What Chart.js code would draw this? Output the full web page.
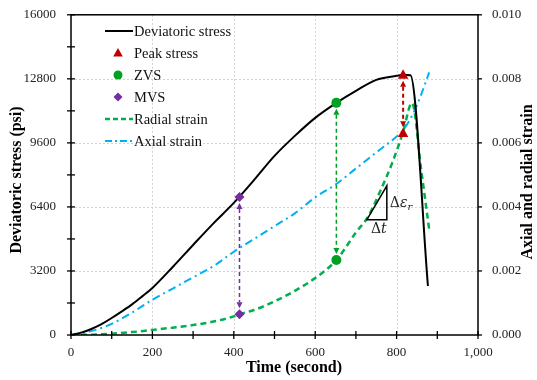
<!DOCTYPE html>
<html>
<head>
<meta charset="utf-8">
<script src="https://cdn.jsdelivr.net/npm/chart.js@4/dist/chart.umd.min.js"></script>
<style>
html,body{margin:0;padding:0;background:#fff}
#wrap{width:537px;height:380px}
</style>
</head>
<body>
<div id="wrap"><canvas id="graficoEnsayo"></canvas></div>
<script>
// deviatoric stress (psi) vs time (s)
const stressTime = [0,25,50,75,100,125,150,175,200,250,300,350,400,450,500,550,600,652,700,750,800,816,834,877];
const stressVal  = [0,120,300,540,850,1180,1530,1930,2350,3400,4500,5580,6600,7750,8950,9950,10850,11600,12200,12750,12950,13000,12980,2450];

// radial strain
const radialTime = [0,50,100,150,200,250,300,350,400,414,450,500,550,600,652,700,730,760,790,815,838,860,880];
const radialVal  = [0,0.00001,0.00004,0.00009,0.00016,0.00023,0.00031,0.00042,0.00058,0.00065,0.00078,0.00105,0.00138,0.00178,0.00234,0.0032,0.0037,0.0045,0.0054,0.0063,0.00725,0.0052,0.0033];

// axial strain
const axialTime = [0,50,100,150,200,250,300,350,400,450,500,550,600,650,700,750,800,816,840,860,880];
const axialVal  = [0,0.00012,0.00035,0.0007,0.0011,0.00145,0.0018,0.00215,0.0026,0.003,0.0034,0.0038,0.0043,0.0047,0.0052,0.0057,0.0062,0.0064,0.0069,0.0075,0.0082];

// Peak stress, ZVS, MVS
const markerNames  = ["Peak stress","ZVS","MVS"];
const markerTime   = [816,652,414];
const markerStress = [13000,11600,6900];
const markerStrain = [0.0063,0.00234,0.00065];

const timeTicks   = [0,200,400,600,800,1000];
const stressTicks = [0,3200,6400,9600,12800,16000];
const strainTicks = [0,0.002,0.004,0.006,0.008,0.010];

// slope triangle (time, radial strain)
const slopeTime   = [727,776];
const slopeStrain = [0.0036,0.00466];

const fuente = "'Liberation Serif','Times New Roman',serif";
const colores = {
  stress: "#000000",
  peak: "#c00000",
  zvs: "#00a020",
  mvs: "#7030a0",
  radial: "#00b050",
  axial: "#00b0f0"
};

function puntos(xs, ys) {
  return xs.map((t, i) => ({x: t, y: ys[i]}));
}

function linea(ctx, x1, y1, x2, y2) {
  ctx.beginPath();
  ctx.moveTo(x1, y1);
  ctx.lineTo(x2, y2);
  ctx.stroke();
}

function marca(ctx, tipo, x, y, r, color) {
  ctx.save();
  ctx.fillStyle = color;
  ctx.beginPath();
  if (tipo === "triangle") {
    ctx.moveTo(x, y - r);
    ctx.lineTo(x + r * 0.95, y + r * 0.7);
    ctx.lineTo(x - r * 0.95, y + r * 0.7);
  } else if (tipo === "circle") {
    ctx.arc(x, y, r, 0, Math.PI * 2);
  } else {
    ctx.moveTo(x, y - r);
    ctx.lineTo(x + r, y);
    ctx.lineTo(x, y + r);
    ctx.lineTo(x - r, y);
  }
  ctx.closePath();
  ctx.fill();
  ctx.restore();
}

function flecha(ctx, x, yTop, yBot, color, ancho) {
  const gap = 6, cabeza = 6, mitad = 3;
  ctx.save();
  ctx.strokeStyle = color;
  ctx.fillStyle = color;
  ctx.lineWidth = ancho;
  ctx.setLineDash([4, 3]);
  linea(ctx, x, yTop + gap + cabeza, x, yBot - gap - cabeza);
  ctx.setLineDash([]);
  ctx.beginPath();
  ctx.moveTo(x, yTop + gap);
  ctx.lineTo(x - mitad, yTop + gap + cabeza);
  ctx.lineTo(x + mitad, yTop + gap + cabeza);
  ctx.closePath();
  ctx.fill();
  ctx.beginPath();
  ctx.moveTo(x, yBot - gap);
  ctx.lineTo(x - mitad, yBot - gap - cabeza);
  ctx.lineTo(x + mitad, yBot - gap - cabeza);
  ctx.closePath();
  ctx.fill();
  ctx.restore();
}

const dibujos = {
  id: "dibujos",
  beforeDatasetsDraw(chart) {
    const {ctx, chartArea: a, scales: {x, y}} = chart;
    ctx.save();
    ctx.strokeStyle = "#d2d2d2";
    ctx.lineWidth = 1;
    ctx.setLineDash([2, 2]);
    timeTicks.slice(1, -1).forEach(v => {
      const px = Math.round(x.getPixelForValue(v)) + 0.5;
      linea(ctx, px, a.top, px, a.bottom);
    });
    stressTicks.slice(1, -1).forEach(v => {
      const py = Math.round(y.getPixelForValue(v)) + 0.5;
      linea(ctx, a.left, py, a.right, py);
    });
    ctx.restore();
  },
  afterDatasetsDraw(chart) {
    const {ctx, scales: {x, y, y1}} = chart;
    const tonos = [colores.peak, colores.zvs, colores.mvs];
    const anchos = [2, 1.5, 1.5];
    markerTime.forEach((t, i) => {
      const px = x.getPixelForValue(t);
      flecha(ctx, px, y.getPixelForValue(markerStress[i]), y1.getPixelForValue(markerStrain[i]), tonos[i], anchos[i]);
    });
    const formas = ["triangle", "circle", "diamond"];
    const radios = [5.5, 5, 5];
    markerTime.forEach((t, i) => {
      const px = x.getPixelForValue(t);
      marca(ctx, formas[i], px, y.getPixelForValue(markerStress[i]), radios[i], tonos[i]);
      marca(ctx, formas[i], px, y1.getPixelForValue(markerStrain[i]), radios[i], tonos[i]);
    });

    // slope triangle
    const x0 = x.getPixelForValue(slopeTime[0]);
    const x1 = x.getPixelForValue(slopeTime[1]);
    const yb = y1.getPixelForValue(slopeStrain[0]);
    const yt = y1.getPixelForValue(slopeStrain[1]);
    ctx.save();
    ctx.strokeStyle = "#000";
    ctx.lineWidth = 1.5;
    ctx.beginPath();
    ctx.moveTo(x0, yb);
    ctx.lineTo(x1, yb);
    ctx.lineTo(x1, yt);
    ctx.closePath();
    ctx.stroke();
    ctx.fillStyle = "#222";
    ctx.textBaseline = "middle";
    ctx.font = "14px 'DejaVu Serif', serif";
    ctx.textAlign = "left";
    let tx = x1 + 3, ty = (yb + yt) / 2 + 1;
    ctx.fillText("Δ", tx, ty);
    tx += ctx.measureText("Δ").width;
    ctx.font = "italic 14px 'DejaVu Serif', serif";
    ctx.fillText("ε", tx, ty);
    tx += ctx.measureText("ε").width;
    ctx.font = "italic 10px 'DejaVu Serif', serif";
    ctx.fillText("r", tx, ty + 4);
    ctx.font = "14px 'DejaVu Serif', serif";
    const w1 = ctx.measureText("Δ").width;
    ctx.font = "italic 14px 'DejaVu Serif', serif";
    const w2 = ctx.measureText("t").width;
    let bx = (x0 + x1) / 2 + 2 - (w1 + w2) / 2;
    ctx.font = "14px 'DejaVu Serif', serif";
    ctx.fillText("Δ", bx, yb + 10);
    ctx.font = "italic 14px 'DejaVu Serif', serif";
    ctx.fillText("t", bx + w1, yb + 10);
    ctx.restore();
  },
  afterDraw(chart) {
    const {ctx, chartArea: a, scales: {x, y, y1}} = chart;
    ctx.save();
    // frame
    ctx.strokeStyle = "#000";
    ctx.lineWidth = 1.5;
    ctx.strokeRect(a.left, a.top, a.right - a.left, a.bottom - a.top);
    // tick marks
    ctx.lineWidth = 1.3;
    for (let v = 0; v <= 1000; v += 100) {
      const px = x.getPixelForValue(v);
      linea(ctx, px, a.bottom - 4, px, a.bottom + 4);
    }
    for (let v = 0; v <= 16000; v += 1600) {
      const py = y.getPixelForValue(v);
      linea(ctx, a.left - 4, py, a.left + 4, py);
    }
    strainTicks.forEach(v => {
      const py = y1.getPixelForValue(v);
      linea(ctx, a.right, py, a.right + 4, py);
    });

    // axis titles
    ctx.fillStyle = "#000";
    ctx.font = "bold 16px " + fuente;
    ctx.textAlign = "center";
    ctx.textBaseline = "middle";
    ctx.fillText("Time (second)", 294, 368);
    ctx.save();
    ctx.translate(17, 180);
    ctx.rotate(-Math.PI / 2);
    ctx.fillText("Deviatoric stress (psi)", 0, 0);
    ctx.restore();
    ctx.save();
    ctx.translate(528, 182);
    ctx.rotate(-Math.PI / 2);
    ctx.fillText("Axial and radial strain", 0, 0);
    ctx.restore();

    // legend
    const filas = [
      {label: "Deviatoric stress", tipo: "line", color: colores.stress, dash: [], ancho: 2},
      {label: markerNames[0], tipo: "triangle", color: colores.peak},
      {label: markerNames[1], tipo: "circle", color: colores.zvs},
      {label: markerNames[2], tipo: "diamond", color: colores.mvs},
      {label: "Radial strain", tipo: "line", color: colores.radial, dash: [5, 3], ancho: 2.5},
      {label: "Axial strain", tipo: "line", color: colores.axial, dash: [7, 3, 2, 3], ancho: 2}
    ];
    const filaY = [31, 53, 75, 97, 119, 141];
    ctx.font = "14.5px " + fuente;
    ctx.textAlign = "left";
    filas.forEach((f, i) => {
      const ly = filaY[i];
      if (f.tipo === "line") {
        ctx.save();
        ctx.strokeStyle = f.color;
        ctx.lineWidth = f.ancho;
        ctx.setLineDash(f.dash);
        linea(ctx, 105, ly, 133, ly);
        ctx.restore();
      } else {
        marca(ctx, f.tipo, 118, ly, f.tipo === "triangle" ? 5 : 4.5, f.color);
      }
      ctx.fillStyle = "#111";
      ctx.fillText(f.label, 134, ly + 1);
    });
    ctx.restore();
  }
};

new Chart(document.getElementById("graficoEnsayo"), {
  type: "line",
  data: {
    datasets: [
      {
        label: "Deviatoric stress",
        data: puntos(stressTime, stressVal),
        yAxisID: "y",
        borderColor: colores.stress,
        borderWidth: 2,
        pointRadius: 0,
        cubicInterpolationMode: "monotone",
        order: 1
      },
      {
        label: "Radial strain",
        data: puntos(radialTime, radialVal),
        yAxisID: "y1",
        borderColor: colores.radial,
        borderWidth: 2.5,
        borderDash: [6, 4],
        pointRadius: 0,
        cubicInterpolationMode: "monotone",
        order: 3
      },
      {
        label: "Axial strain",
        data: puntos(axialTime, axialVal),
        yAxisID: "y1",
        borderColor: colores.axial,
        borderWidth: 2,
        borderDash: [8, 4, 2, 4],
        pointRadius: 0,
        cubicInterpolationMode: "monotone",
        order: 2
      }
    ]
  },
  options: {
    responsive: true,
    maintainAspectRatio: false,
    animation: false,
    layout: {padding: {left: 0, right: 0, top: 7, bottom: 0}},
    plugins: {
      legend: {display: false},
      tooltip: {enabled: false}
    },
    scales: {
      x: {
        type: "linear",
        min: 0,
        max: 1000,
        grid: {display: false},
        border: {display: false},
        afterFit: s => { s.height = 45; },
        ticks: {
          stepSize: 200,
          padding: 2,
          color: "#222",
          font: {family: fuente, size: 13},
          callback: v => v.toLocaleString("en-US")
        }
      },
      y: {
        position: "left",
        min: 0,
        max: 16000,
        grid: {display: false},
        border: {display: false},
        afterFit: s => { s.width = 71; },
        ticks: {
          stepSize: 3200,
          padding: 7,
          color: "#222",
          font: {family: fuente, size: 13},
          callback: v => String(v)
        }
      },
      y1: {
        position: "right",
        min: 0,
        max: 0.01,
        grid: {display: false},
        border: {display: false},
        afterFit: s => { s.width = 59; },
        ticks: {
          stepSize: 0.002,
          padding: 6,
          color: "#222",
          font: {family: fuente, size: 13},
          callback: v => v.toFixed(3)
        }
      }
    }
  },
  plugins: [dibujos]
});
</script>
</body>
</html>
